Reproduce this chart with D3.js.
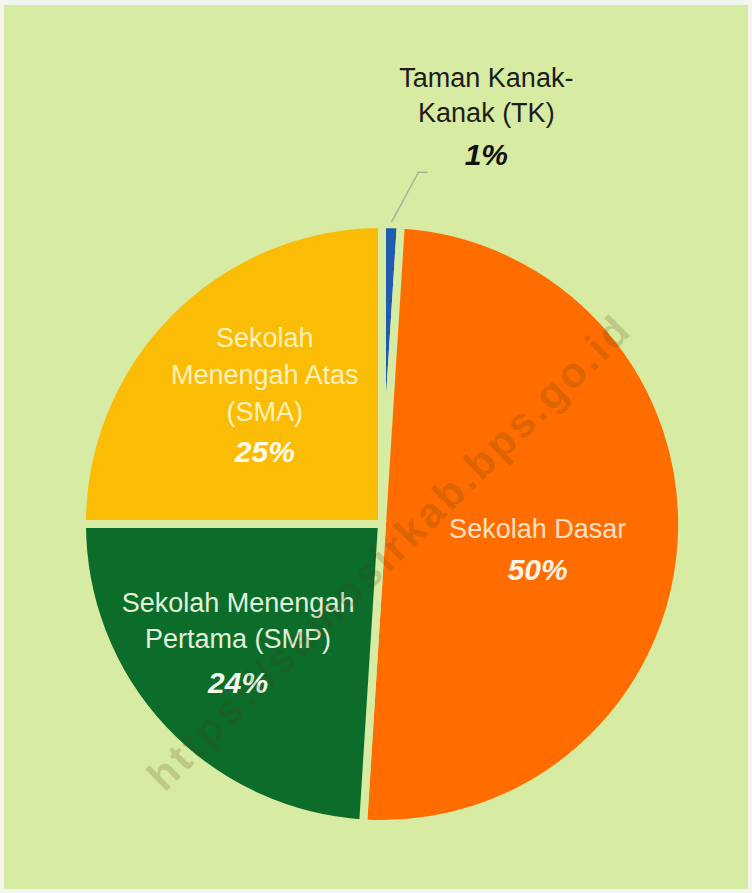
<!DOCTYPE html>
<html>
<head>
<meta charset="utf-8">
<script src="https://cdn.jsdelivr.net/npm/d3@7"></script>
<style>
  body { margin: 0; background: #f3f5ee; }
  text { font-family: "Liberation Sans", Arial, sans-serif; }
</style>
</head>
<body>
<div id="canvas"></div>
<script>
// data
var categories = ['Taman Kanak-Kanak (TK)', 'Sekolah Dasar', 'Sekolah Menengah Pertama (SMP)', 'Sekolah Menengah Atas (SMA)'];
var values = [1, 50, 24, 25];
var labelLines = [
  ['Taman Kanak-', 'Kanak (TK)'],
  ['Sekolah Dasar'],
  ['Sekolah Menengah', 'Pertama (SMP)'],
  ['Sekolah', 'Menengah Atas', '(SMA)']
];
var colors = ['#1f5cb0', '#ff6d00', '#0c6d2a', '#fbbc05'];

var W = 752, H = 893;
var bg = '#d8eba2';
var cx = 382, cy = 524, R = 300;

var svg = d3.select('#canvas')
  .append('svg')
  .attr('width', W)
  .attr('height', H);

svg.append('rect')
  .attr('x', 4).attr('y', 5)
  .attr('width', 744).attr('height', 884)
  .attr('fill', bg);

var rows = categories.map(function(c, i){
  return { name: c, value: values[i], lines: labelLines[i], color: colors[i] };
});

var pie = d3.pie().sort(null).value(function(d){ return d.value; });
var arc = d3.arc().innerRadius(0).outerRadius(R);
var labelArc = d3.arc().innerRadius(170).outerRadius(170);

var plot = svg.append('g')
  .attr('transform', 'translate(' + cx + ',' + cy + ')');

var slices = pie(rows);

plot.selectAll('.slice')
  .data(slices)
  .enter()
  .append('path')
  .attr('class', 'slice')
  .attr('d', arc)
  .attr('fill', function(d){ return d.data.color; })
  .attr('stroke', bg)
  .attr('stroke-width', 8)
  .attr('stroke-linejoin', 'miter');

// watermark
svg.append('text')
  .attr('transform', 'translate(388,553) rotate(-44.5)')
  .attr('text-anchor', 'middle')
  .attr('dominant-baseline', 'central')
  .attr('font-size', 42)
  .attr('font-weight', 'bold')
  .attr('fill', '#4a3a10')
  .attr('fill-opacity', 0.2)
  .attr('textLength', 655)
  .text('https://samosirkab.bps.go.id');

// label styles per slice: nudge from centroid, text colours
var labelStyle = [
  { dx: 99, dy: -267, gap: 35, pctGap: 43, text: '#1c1c1a', pct: '#111' },
  { dx: -14, dy: 3, gap: 38, pctGap: 42, text: '#ffe2c4', pct: '#fff4e8' },
  { dx: -20, dy: -28, gap: 36, pctGap: 45, text: '#e2f1da', pct: '#f2faee' },
  { dx: 3, dy: -57, gap: 37, pctGap: 41, text: '#fff2bd', pct: '#fffbef' }
];

var labels = plot.selectAll('.label')
  .data(slices)
  .enter()
  .append('g')
  .attr('class', 'label')
  .attr('transform', function(d, i){
    var c = labelArc.centroid(d);
    return 'translate(' + (c[0] + labelStyle[i].dx) + ',' + (c[1] + labelStyle[i].dy) + ')';
  });

labels.each(function(d, i){
  var g = d3.select(this), s = labelStyle[i];
  d.data.lines.forEach(function(line, j){
    g.append('text')
      .attr('y', j * s.gap)
      .attr('text-anchor', 'middle')
      .attr('font-size', 27)
      .attr('fill', s.text)
      .text(line);
  });
  g.append('text')
    .attr('y', (d.data.lines.length - 1) * s.gap + s.pctGap)
    .attr('text-anchor', 'middle')
    .attr('font-size', 30)
    .attr('font-weight', 'bold')
    .attr('font-style', 'italic')
    .attr('fill', s.pct)
    .text(d.data.value + '%');
});

// leader line for the small TK slice
var tk = slices[0];
var mid = (tk.startAngle + tk.endAngle) / 2;
var p0 = [Math.sin(mid) * (R + 2), -Math.cos(mid) * (R + 2)];
var p1 = [p0[0] + 27, p0[1] - 50];
var p2 = [p1[0] + 9, p1[1]];
plot.append('path')
  .attr('d', d3.line()([p0, p1, p2]))
  .attr('fill', 'none')
  .attr('stroke', '#a8b2a0')
  .attr('stroke-width', 1.5);
</script>
</body>
</html>
